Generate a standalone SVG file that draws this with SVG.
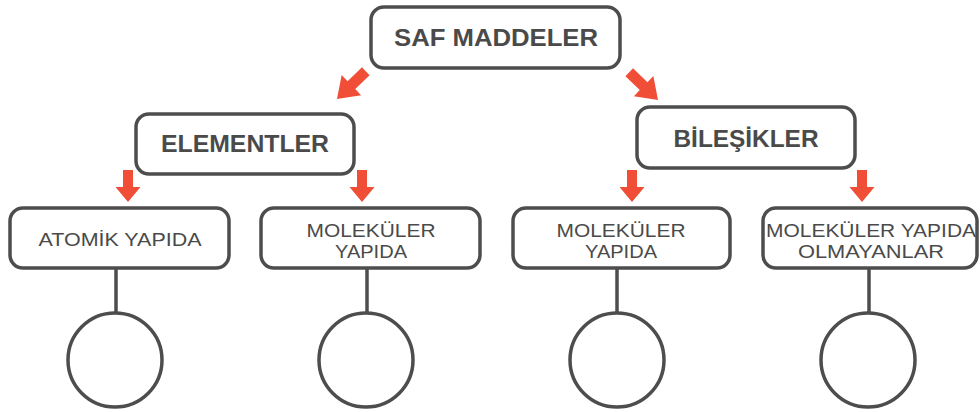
<svg xmlns="http://www.w3.org/2000/svg" width="980" height="412" viewBox="0 0 980 412">
  <style>
    .box { fill: #ffffff; stroke: #4d4d4d; stroke-width: 3.5; }
    .link { stroke: #4d4d4d; stroke-width: 3.5; fill: none; }
    .ring { fill: #ffffff; stroke: #4d4d4d; stroke-width: 3.5; }
    .arrow { fill: #f04e37; }
    .title { font-family: "Liberation Sans", Arial, sans-serif; font-weight: bold; font-size: 24px; fill: #4a4a4a; text-anchor: middle; }
    .label { font-family: "Liberation Sans", Arial, sans-serif; font-size: 19px; fill: #4a4a4a; text-anchor: middle; }
  </style>
  <defs>
    <!-- block arrow pointing down, tip at origin -->
    <path id="arr" d="M -5 -32 L 5 -32 L 5 -15 L 12.5 -15 L 0 0 L -12.5 -15 L -5 -15 Z"/>
    <path id="arrLong" d="M -5.5 -40 L 5.5 -40 L 5.5 -20 L 14 -20 L 0 0 L -14 -20 L -5.5 -20 Z"/>
  </defs>

  <g id="connectors">
    <use href="#arrLong" class="arrow" transform="translate(337,99) rotate(46)"/>
    <use href="#arrLong" class="arrow" transform="translate(658,100) rotate(-46)"/>
    <use href="#arr" class="arrow" transform="translate(128,202)"/>
    <use href="#arr" class="arrow" transform="translate(362,202)"/>
    <use href="#arr" class="arrow" transform="translate(632,202)"/>
    <use href="#arr" class="arrow" transform="translate(862,202)"/>
    <line class="link" x1="116" y1="269" x2="116" y2="313"/>
    <line class="link" x1="367" y1="269" x2="367" y2="313"/>
    <line class="link" x1="617" y1="269" x2="617" y2="313"/>
    <line class="link" x1="869" y1="269" x2="869" y2="313"/>
  </g>

  <g id="saf-maddeler">
    <rect class="box" x="371" y="7" width="249" height="61" rx="13"/>
    <text class="title" x="496" y="46" textLength="204" lengthAdjust="spacingAndGlyphs">SAF MADDELER</text>
  </g>

  <g id="elementler">
    <rect class="box" x="136" y="114" width="218" height="60" rx="13"/>
    <text class="title" x="245" y="152" textLength="168" lengthAdjust="spacingAndGlyphs">ELEMENTLER</text>
  </g>

  <g id="bilesikler">
    <rect class="box" x="637" y="107" width="218" height="61" rx="13"/>
    <text class="title" x="746" y="147" textLength="145" lengthAdjust="spacingAndGlyphs">BİLEŞİKLER</text>
  </g>

  <g id="atomik-yapida">
    <rect class="box" x="10" y="208" width="219" height="60" rx="13"/>
    <text class="label" x="120" y="246" textLength="163" lengthAdjust="spacingAndGlyphs">ATOMİK YAPIDA</text>
  </g>

  <g id="element-molekuler">
    <rect class="box" x="261" y="208" width="219" height="60" rx="13"/>
    <text class="label" x="371" y="237" textLength="129" lengthAdjust="spacingAndGlyphs">MOLEKÜLER</text>
    <text class="label" x="371" y="258" textLength="72" lengthAdjust="spacingAndGlyphs">YAPIDA</text>
  </g>

  <g id="bilesik-molekuler">
    <rect class="box" x="513" y="208" width="217" height="60" rx="13"/>
    <text class="label" x="621" y="237" textLength="129" lengthAdjust="spacingAndGlyphs">MOLEKÜLER</text>
    <text class="label" x="621" y="258" textLength="72" lengthAdjust="spacingAndGlyphs">YAPIDA</text>
  </g>

  <g id="bilesik-molekuler-olmayan">
    <rect class="box" x="763" y="208" width="214" height="60" rx="13"/>
    <text class="label" x="871" y="237" textLength="210" lengthAdjust="spacingAndGlyphs">MOLEKÜLER YAPIDA</text>
    <text class="label" x="871" y="258" textLength="146" lengthAdjust="spacingAndGlyphs">OLMAYANLAR</text>
  </g>

  <g id="circle-1"><circle class="ring" cx="115" cy="360" r="47"/></g>
  <g id="circle-2"><circle class="ring" cx="366" cy="360" r="47"/></g>
  <g id="circle-3"><circle class="ring" cx="617" cy="360" r="47"/></g>
  <g id="circle-4"><circle class="ring" cx="868" cy="360" r="47"/></g>
</svg>
